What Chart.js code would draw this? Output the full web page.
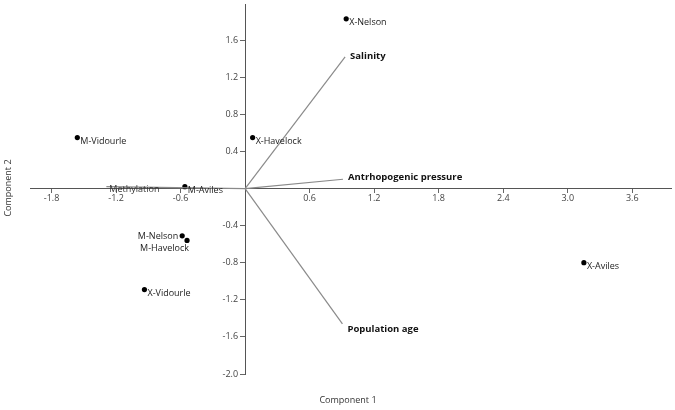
<!DOCTYPE html>
<html>
<head>
<meta charset="utf-8">
<script src="https://cdn.jsdelivr.net/npm/chart.js@4.4.1/dist/chart.umd.min.js"></script>
<style>
html,body{margin:0;padding:0;background:#fff;}
#wrap{width:675px;height:410px;position:relative;}
</style>
</head>
<body>
<div id="wrap"><canvas id="c" width="675" height="410"></canvas></div>
<script>
// ---- Data ----
const siteNames = ["X-Nelson","X-Havelock","M-Vidourle","M-Aviles","M-Nelson","M-Havelock","X-Vidourle","X-Aviles"];
const comp1 = [0.94, 0.07, -1.56, -0.56, -0.585, -0.54, -0.936, 3.15];
const comp2 = [1.83, 0.55, 0.55, 0.02, -0.51, -0.56, -1.09, -0.80];

const vectorNames = ["Salinity","Antrhopogenic pressure","Population age","Methylation"];
const vectorC1 = [0.93, 0.91, 0.905, -1.29];
const vectorC2 = [1.42, 0.10, -1.46, 0.02];

const xTickValues = [-1.8, -1.2, -0.6, 0.6, 1.2, 1.8, 2.4, 3.0, 3.6];
const yTickValues = [-2.0, -1.6, -1.2, -0.8, -0.4, 0.4, 0.8, 1.2, 1.6];

const xTitle = "Component 1";
const yTitle = "Component 2";

// ---- Label placement (style) ----
const labelPlacement = {"M-Nelson":"left","M-Havelock":"belowleft"};
const boldVectors = {"Methylation":false};

const FONT = "'Open Sans', 'Noto Sans', sans-serif";

const pointData = siteNames.map((n,i)=>({x:comp1[i], y:comp2[i]}));
const vectorDatasets = vectorNames.map((n,i)=>({
  type:'line',
  label:n,
  data:[{x:0,y:0},{x:vectorC1[i],y:vectorC2[i]}],
  borderColor:'#8a8a8a',
  borderWidth:1.2,
  pointRadius:0,
  showLine:true,
  fill:false
}));

const labelPlugin = {
  id:'labels',
  afterDatasetsDraw(chart){
    const ctx = chart.ctx;
    const xs = chart.scales.x, ys = chart.scales.y;
    ctx.save();
    // y tick labels (left of the centred axis)
    const axisX = xs.getPixelForValue(0);
    ctx.font = "9px " + FONT;
    ctx.fillStyle = '#444';
    ctx.textAlign = 'right';
    ctx.textBaseline = 'middle';
    yTickValues.forEach(v=>{
      ctx.fillText(v.toFixed(1), axisX - 7, ys.getPixelForValue(v));
    });
    // point labels
    ctx.font = "9px " + FONT;
    ctx.fillStyle = '#222';
    siteNames.forEach((n,i)=>{
      const px = xs.getPixelForValue(comp1[i]);
      const py = ys.getPixelForValue(comp2[i]);
      const p = labelPlacement[n] || 'right';
      ctx.textBaseline = 'middle';
      if (p === 'right'){ ctx.textAlign='left'; ctx.fillText(n, px+3, py+3.5); }
      else if (p === 'left'){ ctx.textAlign='right'; ctx.fillText(n, px-4, py+1); }
      else { ctx.textAlign='right'; ctx.fillText(n, px+2, py+8); }
    });
    // vector labels
    vectorNames.forEach((n,i)=>{
      const px = xs.getPixelForValue(vectorC1[i]);
      const py = ys.getPixelForValue(vectorC2[i]);
      const bold = boldVectors[n] !== false;
      ctx.font = (bold ? "bold 9.5px " : "9px ") + FONT;
      ctx.fillStyle = bold ? '#111' : '#333';
      ctx.textAlign = 'left';
      ctx.textBaseline = 'middle';
      let dy = 0, dx = 5;
      if (!bold){ dx = 3; dy = 3; }
      else if (vectorC2[i] < 0) dy = 5;
      else if (vectorC2[i] < 0.5) dy = -2;
      else dy = -1;
      ctx.fillText(n, px+dx, py+dy);
    });
    // axis titles
    ctx.font = "9px " + FONT;
    ctx.fillStyle = '#333';
    ctx.textAlign = 'center';
    ctx.textBaseline = 'middle';
    ctx.fillText(xTitle, 348, 400);
    ctx.translate(8, 188);
    ctx.rotate(-Math.PI/2);
    ctx.fillText(yTitle, 0, 0);
    ctx.restore();
  }
};

new Chart(document.getElementById('c'), {
  type:'scatter',
  data:{
    datasets:[
      ...vectorDatasets,
      {
        type:'scatter',
        label:'Sites',
        data:pointData,
        pointRadius:2.6,
        pointBackgroundColor:'#000',
        pointBorderColor:'#000',
        pointBorderWidth:0
      }
    ]
  },
  options:{
    responsive:false,
    animation:false,
    devicePixelRatio:1,
    layout:{padding:{left:30, right:3, top:3, bottom:36}},
    plugins:{legend:{display:false}, tooltip:{enabled:false}},
    scales:{
      x:{
        type:'linear',
        min:-2.0, max:3.96,
        position:{y:0},
        afterBuildTicks(s){ s.ticks = xTickValues.map(v=>({value:v})); },
        ticks:{
          autoSkip:false, maxRotation:0,
          callback:(v)=>Number(v).toFixed(1),
          font:{size:9, family:FONT}, color:'#444', padding:1
        },
        grid:{drawOnChartArea:false, drawTicks:true, tickLength:4, color:'#666'},
        border:{display:true, color:'#555', width:1}
      },
      y:{
        type:'linear',
        min:-2.0, max:1.99,
        position:{x:0},
        afterBuildTicks(s){ s.ticks = yTickValues.map(v=>({value:v})); },
        ticks:{ display:false },
        grid:{drawOnChartArea:false, drawTicks:true, tickLength:5, color:'#666'},
        border:{display:true, color:'#555', width:1}
      }
    }
  },
  plugins:[labelPlugin]
});
</script>
</body>
</html>
